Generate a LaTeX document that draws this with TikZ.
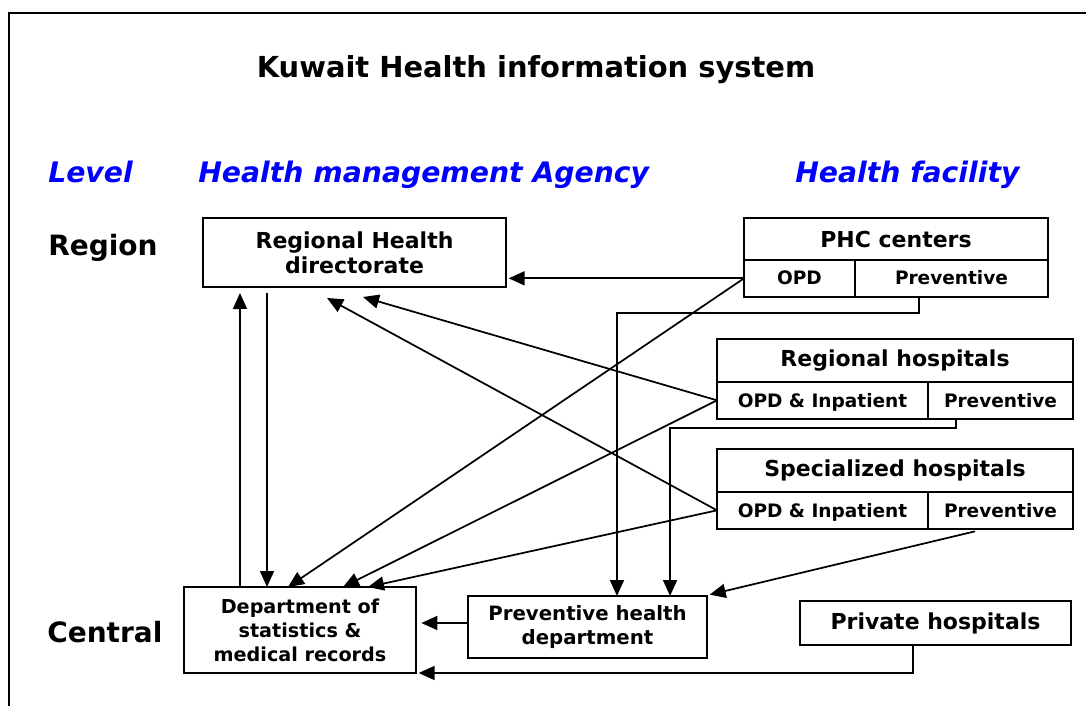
\documentclass[tikz,border=0pt]{standalone}
\usepackage{fontspec}
\setmainfont{DejaVu Sans}
\usetikzlibrary{positioning, arrows.meta}

\begin{document}
\begin{tikzpicture}[
    x=0.75pt, y=-0.75pt,
    unit/.style={rectangle, draw, line width=1.4pt, inner sep=0pt, outer sep=0pt, align=center, font=\bfseries\fontsize{16.5}{18.5}\selectfont},
    cell/.style={unit, font=\bfseries\fontsize{13.9}{16}\selectfont, minimum height=27.5pt, text height=10pt, text depth=0pt},
    heading/.style={font=\bfseries\itshape\fontsize{21.2}{24}\selectfont, text=blue, anchor=base west, inner sep=0pt},
    level/.style={font=\bfseries\fontsize{21}{24}\selectfont, anchor=base west, inner sep=0pt},
    arrow/.style={-{Triangle[length=12pt, width=10.5pt]}, line width=1.3pt}
]
\useasboundingbox (0,0) rectangle (1086,706);
\draw[line width=1.5pt] (9,706) -- (9,13) -- (1086,13);

\node[anchor=base, font=\bfseries\fontsize{21.7}{24}\selectfont] (title) at (536,78) {Kuwait Health information system};

\node[heading] (lvl) at (48,183) {Level};
\node[heading] (agency) at (198,183) {Health management Agency};
\node[heading] (facility) at (795,183) {Health facility};
\node[level] (region) at (48,256) {Region};
\node[level] (central) at (47,642) {Central};

% agencies
\node[unit, minimum width=227.25pt, minimum height=51.75pt] (dir) at (354.5,252.5) {Regional Health\\directorate};
\node[unit, minimum width=174pt, minimum height=64.5pt, font=\bfseries\fontsize{14.4}{18}\selectfont] (dept) at (300,630) {Department of\\statistics \&\\medical records};
\node[unit, minimum width=179.25pt, minimum height=46.5pt, font=\bfseries\fontsize{14.8}{18}\selectfont] (prevdept) at (587.5,627) {Preventive health\\department};

% facilities
\node[unit, minimum width=228pt, minimum height=31.5pt] (phc) at (896,239) {PHC centers};
\node[cell, minimum width=83.25pt, below right=0pt of phc.south west] (phcopd) {OPD};
\node[cell, minimum width=144.75pt, right=0pt of phcopd] (phcprev) {Preventive};

\node[unit, minimum width=267pt, minimum height=32.25pt] (rh) at (895,360.5) {Regional hospitals};
\node[cell, minimum width=158.25pt, below right=0pt of rh.south west] (rhopd) {OPD \& Inpatient};
\node[cell, minimum width=108.75pt, right=0pt of rhopd] (rhprev) {Preventive};

\node[unit, minimum width=267pt, minimum height=32.25pt] (sh) at (895,470.5) {Specialized hospitals};
\node[cell, minimum width=158.25pt, below right=0pt of sh.south west] (shopd) {OPD \& Inpatient};
\node[cell, minimum width=108.75pt, right=0pt of shopd] (shprev) {Preventive};

\node[unit, minimum width=203.25pt, minimum height=33pt] (priv) at (935.5,623) {Private hospitals};

% reporting lines
\draw[arrow, shorten >=2pt] (phcopd.west) -- (phcopd.west -| dir.east);
\draw[arrow] (phcopd.west) -- ([xshift=-9pt]dept.north);
\draw[arrow] (rhopd.west) -- ([xshift=6.4pt, yshift=-7.5pt]dir.south);
\draw[arrow] (rhopd.west) -- ([xshift=32.25pt]dept.north);
\draw[arrow] (shopd.west) -- ([xshift=-20.6pt, yshift=-8.25pt]dir.south);
\draw[arrow] (shopd.west) -- ([xshift=51pt]dept.north);
\draw[arrow] ([xshift=-45pt]dept.north) -- ([xshift=-85.9pt, yshift=-4.5pt]dir.south);
\draw[arrow] ([xshift=-65.6pt, yshift=-4.5pt]dir.south) -- ([xshift=-24.75pt]dept.north);

\draw[arrow] ([xshift=-24.4pt]phcprev.south) -- ++(0,16) -| ([xshift=22.1pt]prevdept.north);
\draw[arrow] ([xshift=-33.4pt]rhprev.south) -- ++(0,9.5) -| ([xshift=61.9pt]prevdept.north);
\draw[arrow] ([xshift=-19.1pt, yshift=-2pt]shprev.south) -- ([xshift=2pt, yshift=1pt]prevdept.north east);
\draw[arrow, shorten >=4pt] ([yshift=3pt]prevdept.west) -- ([yshift=3pt]prevdept.west -| dept.east);
\draw[arrow] ([xshift=-16.9pt]priv.south) |- ([xshift=2pt]dept.south east);
\end{tikzpicture}
\end{document}
